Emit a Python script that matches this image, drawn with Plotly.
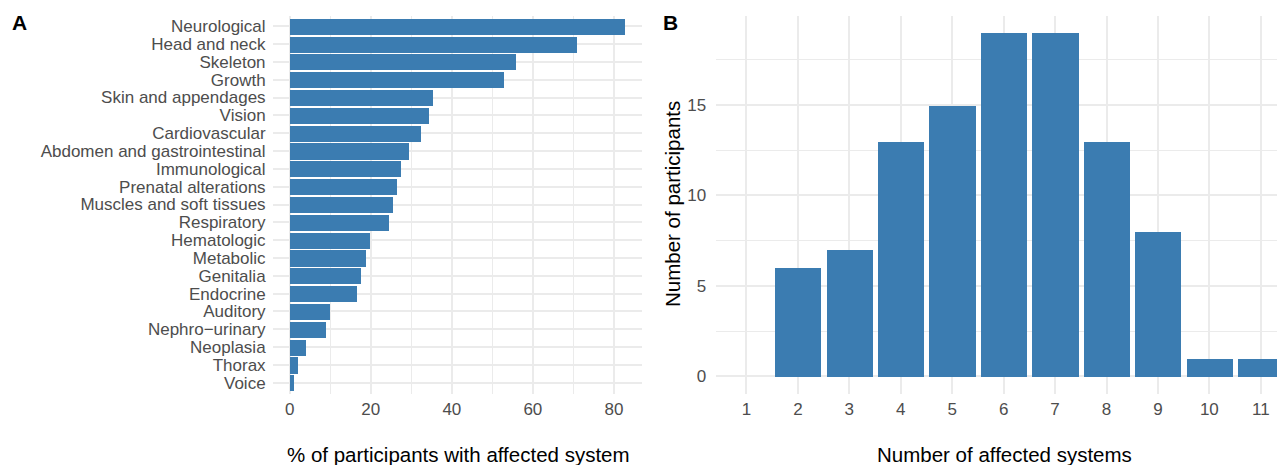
import plotly.graph_objects as go

# Panel A data
systems = ["Neurological", "Head and neck", "Skeleton", "Growth", "Skin and appendages",
           "Vision", "Cardiovascular", "Abdomen and gastrointestinal", "Immunological",
           "Prenatal alterations", "Muscles and soft tissues", "Respiratory", "Hematologic",
           "Metabolic", "Genitalia", "Endocrine", "Auditory", "Nephro\u2212urinary",
           "Neoplasia", "Thorax", "Voice"]
pct_affected = [82.8, 70.8, 55.8, 52.8, 35.3, 34.3, 32.3, 29.4, 27.4, 26.4, 25.4, 24.6,
                19.7, 18.7, 17.6, 16.7, 9.9, 8.9, 4.0, 2.0, 1.0]

# Panel B data
n_systems = [1, 2, 3, 4, 5, 6, 7, 8, 9, 10, 11]
n_participants = [0, 6, 7, 13, 15, 19, 19, 13, 8, 1, 1]

W, H = 1277, 465
BAR = "#3B7CB1"
GRID = "#EBEBEB"
TICKC = "#4D4D4D"
FONT = "Liberation Sans, Arial, sans-serif"
TICKSIZE = 17
TITLESIZE = 20.5

fig = go.Figure()
fig.add_trace(go.Bar(x=pct_affected, y=systems, orientation="h", marker_color=BAR,
                     marker_line_width=0, width=0.9, xaxis="x", yaxis="y",
                     showlegend=False))
fig.add_trace(go.Bar(x=n_systems, y=n_participants, marker_color=BAR,
                     marker_line_width=0, width=0.9, xaxis="x2", yaxis="y2",
                     showlegend=False))

ytop = 1 - 15.5 / H
ybot = 1 - 393.5 / H

amax = max(pct_affected)
bmax = max(n_participants)

common = dict(showline=False, zeroline=False, gridcolor=GRID, gridwidth=1.6,
              tickfont=dict(family=FONT, size=TICKSIZE, color=TICKC),
              ticks="outside", tickcolor="rgba(0,0,0,0)")

fig.update_layout(
    width=W, height=H, margin=dict(l=0, r=0, t=0, b=0),
    plot_bgcolor="white", paper_bgcolor="white",
    font=dict(family=FONT),
    bargap=0,
    xaxis=dict(domain=[273 / W, 642 / W], anchor="y",
               range=[-0.05 * amax, 1.05 * amax], tickvals=[0, 20, 40, 60, 80],
               minor=dict(tickvals=[10, 30, 50, 70], showgrid=True, gridcolor=GRID,
                          gridwidth=0.9, ticks=""),
               ticklen=0, **common),
    yaxis=dict(domain=[ybot, ytop], anchor="x", categoryorder="array",
               categoryarray=systems[::-1], tickmode="array", tickvals=systems,
               range=[-0.6, len(systems) - 0.4], ticklen=3, **common),
    xaxis2=dict(domain=[715.6 / W, 1.0], anchor="y2",
                range=[0.4, 11.315], tickvals=n_systems, ticklen=0, **common),
    yaxis2=dict(domain=[ybot, ytop], anchor="x2",
                range=[-0.05 * bmax, 1.05 * bmax], tickvals=[0, 5, 10, 15],
                minor=dict(tickvals=[2.5, 7.5, 12.5, 17.5], showgrid=True,
                           gridcolor=GRID, gridwidth=0.9, ticks=""),
                ticklen=5, **common),
    annotations=[
        dict(text="<b>A</b>", x=19 / W, y=1 - 22 / H, xref="paper", yref="paper",
             showarrow=False, font=dict(family=FONT, size=21, color="black"),
             xanchor="center", yanchor="middle"),
        dict(text="<b>B</b>", x=670 / W, y=1 - 22 / H, xref="paper", yref="paper",
             showarrow=False, font=dict(family=FONT, size=21, color="black"),
             xanchor="center", yanchor="middle"),
        dict(text="% of participants with affected system", x=458 / W, y=1 - 454 / H,
             xref="paper", yref="paper", showarrow=False,
             font=dict(family=FONT, size=TITLESIZE, color="black"),
             xanchor="center", yanchor="middle"),
        dict(text="Number of affected systems", x=1004 / W, y=1 - 454 / H,
             xref="paper", yref="paper", showarrow=False,
             font=dict(family=FONT, size=TITLESIZE, color="black"),
             xanchor="center", yanchor="middle"),
        dict(text="Number of participants", x=672 / W, y=1 - 204 / H,
             xref="paper", yref="paper", showarrow=False, textangle=-90,
             font=dict(family=FONT, size=TITLESIZE, color="black"),
             xanchor="center", yanchor="middle"),
    ],
)

fig.write_html("out.html", config={"displayModeBar": False},
               post_script="document.body.style.margin='0';")
